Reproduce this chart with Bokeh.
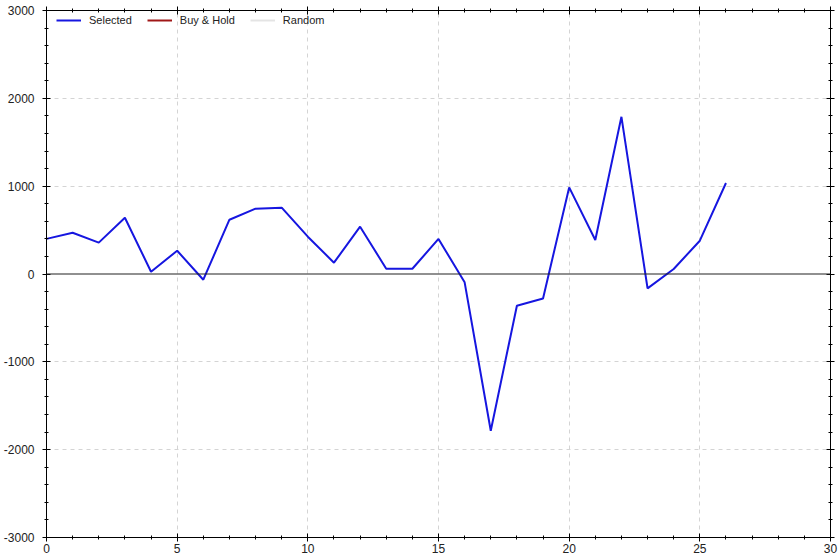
from bokeh.plotting import figure
from bokeh.models import (LinearAxis, FixedTicker, Span, Legend, LegendItem, Range1d, Grid)
from bokeh.embed import file_html
from bokeh.resources import INLINE

# ---- data ----
periods = list(range(0, 27))
selected = [400, 470, 357, 641, 26, 265, -65, 618, 744, 755, 425, 129, 539, 60, 60,
            399, -95, -1785, -361, -278, 986, 387, 1790, -164, 57, 379, 1036]
x_major = [0, 5, 10, 15, 20, 25, 30]
x_minor = list(range(0, 31))
y_major = [-3000, -2000, -1000, 0, 1000, 2000, 3000]
y_minor = list(range(-3000, 3001, 200))
y_labels = {v: str(v) for v in y_major}
series_names = ["Selected", "Buy & Hold", "Random"]
series_colors = ["#1616e0", "#a01818", "#e4e4e4"]

FONT = "Liberation Sans"
nan = float("nan")

p = figure(width=839, height=560, output_backend="svg", toolbar_location=None,
           x_range=Range1d(0, 30), y_range=Range1d(-3000, 3000),
           x_axis_type=None, y_axis_type=None,
           min_border_left=46, min_border_right=9, min_border_top=10, min_border_bottom=23)
p.background_fill_color = "white"
p.border_fill_color = "white"
p.outline_line_color = "black"
p.outline_line_width = 1

def style_axis(ax, ticks, minor, show_labels, overrides=None, standoff=4):
    ax.ticker = FixedTicker(ticks=ticks, minor_ticks=minor)
    ax.axis_line_color = "black"
    ax.major_tick_line_color = "black"
    ax.minor_tick_line_color = "black"
    ax.major_tick_in = 4
    ax.major_tick_out = 4
    ax.minor_tick_in = 2
    ax.minor_tick_out = 2
    ax.major_label_text_font = FONT
    ax.major_label_text_font_size = "12px"
    ax.major_label_text_color = "#222222"
    ax.major_label_standoff = standoff if show_labels else 0
    if not show_labels:
        ax.major_label_overrides = {t: "" for t in ticks}
    elif overrides:
        ax.major_label_overrides = overrides

xb = LinearAxis()
style_axis(xb, x_major, x_minor, True, standoff=2)
p.add_layout(xb, "below")
yl = LinearAxis()
style_axis(yl, y_major, y_minor, True, y_labels, standoff=8)
p.add_layout(yl, "left")
xa = LinearAxis()
style_axis(xa, x_major, x_minor, False)
p.add_layout(xa, "above")
yr = LinearAxis()
style_axis(yr, y_major, y_minor, False)
p.add_layout(yr, "right")

gx = Grid(dimension=0, ticker=FixedTicker(ticks=x_major[1:-1]))
gy = Grid(dimension=1, ticker=FixedTicker(ticks=[v for v in y_major[1:-1] if v != 0]))
for g in (gx, gy):
    g.grid_line_color = "#d4d4d4"
    g.grid_line_dash = "4 4"
    g.grid_line_width = 1
    p.add_layout(g, "center")

p.add_layout(Span(location=0, dimension="width", line_color="#222222", line_width=1.2))

r_sel = p.line(periods, selected, line_color=series_colors[0], line_width=2)
r_bh = p.line([0], [nan], line_color=series_colors[1], line_width=2)
r_rand = p.line([0], [nan], line_color=series_colors[2], line_width=2)

legend = Legend(items=[LegendItem(label=series_names[0], renderers=[r_sel]),
                       LegendItem(label=series_names[1], renderers=[r_bh]),
                       LegendItem(label=series_names[2], renderers=[r_rand])],
                location=(10, 511), orientation="horizontal")
legend.border_line_color = None
legend.background_fill_alpha = 0
legend.label_text_font = FONT
legend.label_text_font_size = "11px"
legend.label_text_color = "#222222"
legend.glyph_width = 25
legend.glyph_height = 12
legend.spacing = 15
legend.margin = 0
legend.padding = 4
legend.label_standoff = 8
p.add_layout(legend, "center")

open("out.html", "w").write(file_html(p, INLINE))
